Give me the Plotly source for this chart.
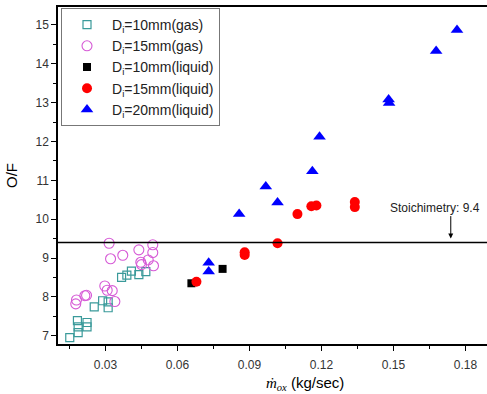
import plotly.graph_objects as go

# D=10mm (gas)
g10_x = [0.0151, 0.0183, 0.0186, 0.0186, 0.0223, 0.0223, 0.0253, 0.0288, 0.0311, 0.0311,
         0.0367, 0.0389, 0.0408, 0.0439, 0.0468]
g10_y = [6.95, 7.39, 7.23, 7.08, 7.34, 7.23, 7.74, 7.90, 7.87, 7.72,
         8.50, 8.56, 8.66, 8.57, 8.65]
# D=15mm (gas)
g15_x = [0.0315, 0.0321, 0.0372, 0.0439, 0.0497, 0.0497, 0.0478, 0.0447, 0.0450, 0.0500,
         0.0297, 0.0307, 0.0328, 0.0339, 0.0214, 0.0221, 0.0179, 0.0176]
g15_y = [9.38, 8.98, 9.07, 9.21, 9.34, 9.14, 8.95, 8.89, 8.83, 8.80,
         8.28, 8.17, 8.16, 7.88, 8.03, 8.04, 7.92, 7.82]
# D=10mm (liquid)
l10_x = [0.0658, 0.0788]
l10_y = [8.35, 8.72]
# D=15mm (liquid)
l15_x = [0.0679, 0.0880, 0.0880, 0.1017, 0.1100, 0.1158, 0.1179, 0.1339, 0.1339]
l15_y = [8.39, 9.08, 9.15, 9.38, 10.13, 10.33, 10.35, 10.44, 10.31]
# D=20mm (liquid)
l20_x = [0.0730, 0.0730, 0.0857, 0.1017, 0.0968, 0.1162, 0.1192, 0.1480, 0.1482, 0.1678, 0.1765]
l20_y = [8.88, 8.65, 10.13, 10.43, 10.84, 11.23, 12.12, 13.08, 12.99, 14.33, 14.87]

stoich = 9.4
x_ticks = [0.03, 0.06, 0.09, 0.12, 0.15, 0.18]
y_ticks = [7, 8, 9, 10, 11, 12, 13, 14, 15]

fig = go.Figure()
fig.add_trace(go.Scatter(x=g10_x, y=g10_y, mode="markers", name="D<sub>i</sub>=10mm(gas)",
                         marker=dict(symbol="square-open", size=8, color="#3a9a9a", line=dict(width=1.2))))
fig.add_trace(go.Scatter(x=g15_x, y=g15_y, mode="markers", name="D<sub>i</sub>=15mm(gas)",
                         marker=dict(symbol="circle-open", size=10, color="#d65ad6", line=dict(width=1.1))))
fig.add_trace(go.Scatter(x=l10_x, y=l10_y, mode="markers", name="D<sub>i</sub>=10mm(liquid)",
                         marker=dict(symbol="square", size=8, color="black")))
fig.add_trace(go.Scatter(x=l15_x, y=l15_y, mode="markers", name="D<sub>i</sub>=15mm(liquid)",
                         marker=dict(symbol="circle", size=10, color="red")))
fig.add_trace(go.Scatter(x=l20_x, y=l20_y, mode="markers", name="D<sub>i</sub>=20mm(liquid)",
                         marker=dict(symbol="triangle-up", size=11, color="blue")))

fig.add_shape(type="line", xref="paper", x0=0, x1=1, yref="y", y0=stoich, y1=stoich,
              line=dict(color="black", width=1.5))
fig.add_annotation(x=0.1672, y=10.29, text="Stoichimetry: 9.4", showarrow=False,
                   font=dict(family="Arial", size=12, color="#222"))
fig.add_annotation(x=0.1739, y=9.50, ax=0, ay=-24, text="", showarrow=True,
                   arrowhead=2, arrowsize=1, arrowwidth=1, arrowcolor="black")
# x-axis title
fig.add_annotation(xref="paper", yref="paper", x=0.576, y=-0.118, yanchor="middle",
                   text="<span style='font-family:Times New Roman'><i>ṁ<sub>ox</sub></i></span> (kg/sec)",
                   showarrow=False, font=dict(family="Arial", size=15, color="black"))

axis_common = dict(showline=True, linecolor="black", linewidth=1.5, ticks="outside",
                   ticklen=5, tickwidth=1.2, tickcolor="black", showgrid=False, zeroline=False,
                   tickfont=dict(family="Arial", size=12, color="#333"))
fig.update_xaxes(range=[0.0102, 0.189], tickvals=x_ticks, ticktext=[f"{v:.2f}" for v in x_ticks],
                 minor=dict(ticks="outside", ticklen=3, tickwidth=1.2, tickcolor="black", dtick=0.015, tick0=0.0),
                 mirror=True, ticklabelstandoff=4,
                 **axis_common)
fig.update_yaxes(range=[6.787, 15.46], tickvals=y_ticks,
                 minor=dict(ticks="outside", ticklen=3, tickwidth=1.2, tickcolor="black", dtick=0.5, tick0=0),
                 title=dict(text="O/F", font=dict(family="Arial", size=15, color="black"), standoff=14),
                 **axis_common)

fig.update_layout(
    width=487, height=394,
    margin=dict(l=58, r=0, t=7, b=50),
    plot_bgcolor="white", paper_bgcolor="white",
    legend=dict(x=0.007, y=0.997, xanchor="left", yanchor="top",
                bordercolor="#777", borderwidth=1, bgcolor="white",
                font=dict(family="Arial", size=14, color="#222"),
                tracegroupgap=0, itemwidth=40),
)

fig.write_html("out.html")
